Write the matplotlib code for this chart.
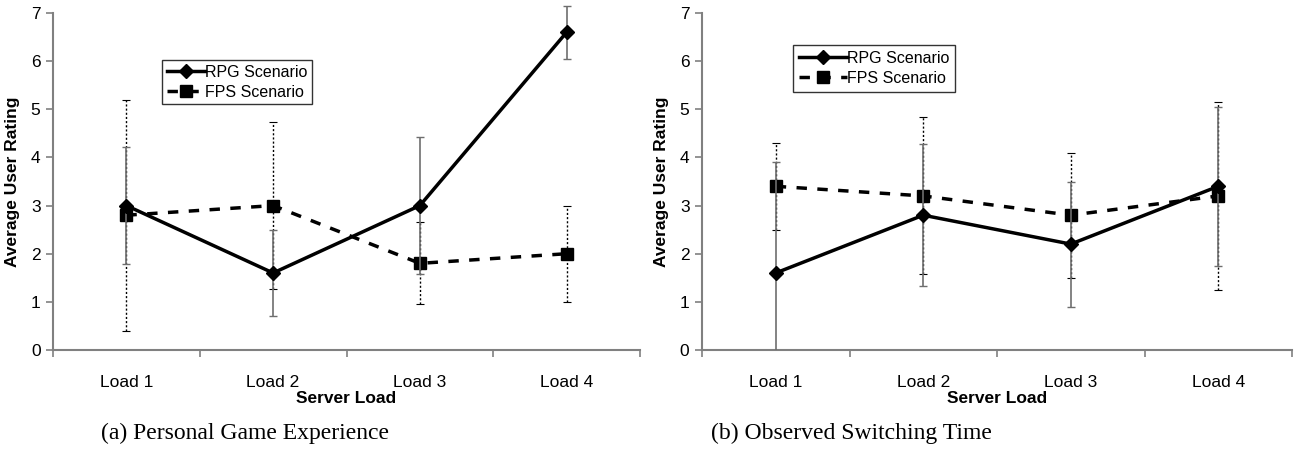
import matplotlib
matplotlib.use("Agg")
import matplotlib.pyplot as plt
import numpy as np

# Average user ratings per server load, with standard deviation bars
loads = ["Load 1", "Load 2", "Load 3", "Load 4"]

rpg_exp = [3.0, 1.6, 3.0, 6.6]
rpg_exp_err = [1.22, 0.9, 1.42, 0.55]
fps_exp = [2.8, 3.0, 1.8, 2.0]
fps_exp_err = [2.4, 1.73, 0.85, 1.0]

rpg_switch = [1.6, 2.8, 2.2, 3.4]
rpg_switch_err = [2.3, 1.48, 1.3, 1.65]
fps_switch = [3.4, 3.2, 2.8, 3.2]
fps_switch_err = [0.9, 1.63, 1.3, 1.95]

captions = ["(a) Personal Game Experience", "(b) Observed Switching Time"]

plt.rcParams["font.family"] = ["Liberation Sans", "DejaVu Sans"]

fig = plt.figure(figsize=(13.06, 4.58), dpi=100)
W, H = 1306, 458
ax_a = fig.add_axes([53 / W, (H - 350) / H, 587 / W, 337 / H])
ax_b = fig.add_axes([702 / W, (H - 350) / H, 590 / W, 337 / H])

axis_grey = "#808080"
x = np.arange(1, len(loads) + 1)


def draw_panel(ax, rpg, rpg_err, fps, fps_err, legend_box, clip_bars,
               pad, handle_len):
    # FPS: dashed line, squares, dotted error bars
    fps_line = ax.errorbar(x, fps, yerr=fps_err, color="black", lw=2.5,
                           ls=(0, (3, 3)), marker="s", ms=8.5,
                           ecolor="black", elinewidth=1.0, capsize=3,
                           capthick=0.8, zorder=3)
    fps_line[2][0].set_linestyle((0, (1.5, 1.5)))
    # RPG: solid line, diamonds, solid grey error bars
    rpg_line = ax.errorbar(x, rpg, yerr=rpg_err, color="black", lw=2.5,
                           ls="-", marker="D", ms=7.5,
                           ecolor="#6e6e6e", elinewidth=1.2, capsize=3,
                           capthick=1.0, zorder=4)
    if not clip_bars:
        # the top bar runs past the 7 mark
        for art in rpg_line[1] + rpg_line[2]:
            art.set_clip_on(False)

    ax.set_xlim(0.5, len(loads) + 0.5)
    ax.set_ylim(0, 7)
    ax.set_yticks(range(0, 8))
    ax.set_xticks(np.arange(0.5, len(loads) + 1, 1.0))
    ax.set_xticklabels([])
    ax.set_xticks(x, minor=True)
    ax.set_xticklabels(loads, minor=True)
    ax.tick_params(axis="x", which="minor", length=0, pad=18, labelsize=12.5)
    ax.tick_params(axis="x", which="major", length=5, width=1.2,
                   color=axis_grey, direction="out")
    ax.tick_params(axis="y", length=5, width=1.2, color=axis_grey,
                   direction="out", labelsize=12.5, pad=4)
    for side in ("top", "right"):
        ax.spines[side].set_visible(False)
    for side in ("left", "bottom"):
        ax.spines[side].set_color(axis_grey)
        ax.spines[side].set_linewidth(1.5)

    ax.set_xlabel("Server Load", fontsize=12.5, fontweight="bold", labelpad=1)
    ax.set_ylabel("Average User Rating", fontsize=12.5, fontweight="bold",
                  labelpad=8)

    leg = ax.legend([rpg_line[0], fps_line[0]], ["RPG Scenario", "FPS Scenario"],
                    loc="upper left", bbox_to_anchor=legend_box,
                    bbox_transform=fig.transFigure, fontsize=11.5,
                    frameon=True, fancybox=False, handlelength=handle_len,
                    handletextpad=0.0, borderpad=pad, labelspacing=0.3,
                    borderaxespad=0)
    leg.get_frame().set_edgecolor("black")
    leg.get_frame().set_linewidth(1.0)
    return leg


draw_panel(ax_a, rpg_exp, rpg_exp_err, fps_exp, fps_exp_err,
           (162 / W, (H - 60) / H), clip_bars=False, pad=0.3, handle_len=2.4)
draw_panel(ax_b, rpg_switch, rpg_switch_err, fps_switch, fps_switch_err,
           (793 / W, (H - 45) / H), clip_bars=True, pad=0.38, handle_len=3.0)

fig.text(245 / W, (H - 433) / H, captions[0], ha="center", va="center",
         fontsize=17, family=["Liberation Serif", "DejaVu Serif"])
fig.text(851 / W, (H - 433) / H, captions[1], ha="center", va="center",
         fontsize=17, family=["Liberation Serif", "DejaVu Serif"])

fig.savefig("out.png", dpi=100)
